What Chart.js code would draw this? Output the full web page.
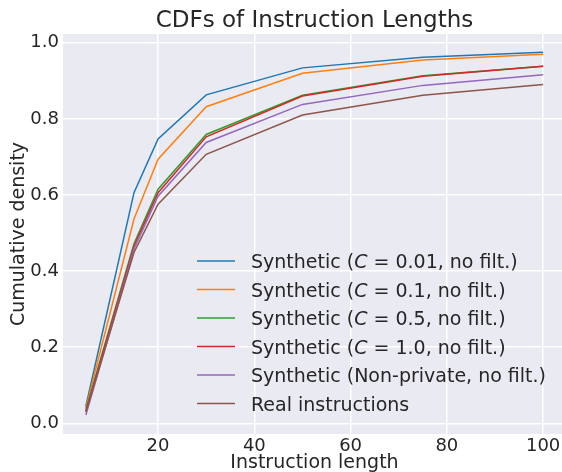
<!DOCTYPE html>
<html>
<head>
<meta charset="utf-8">
<script src="https://cdn.jsdelivr.net/npm/chart.js@4/dist/chart.umd.min.js"></script>
<style>
  html, body { margin: 0; padding: 0; background: #ffffff; overflow: hidden; }
  #wrap { width: 562px; height: 472px; overflow: hidden; }
  canvas { display: block; }
</style>
</head>
<body>
<div id="wrap"><canvas id="cdfChart" width="566" height="472"></canvas></div>
<script>
// instruction lengths where the CDF was evaluated
let lengths = [5, 15, 20, 30, 50, 75, 100];

let seriesLabels = [
    'Synthetic (C = 0.01, no filt.)',
    'Synthetic (C = 0.1, no filt.)',
    'Synthetic (C = 0.5, no filt.)',
    'Synthetic (C = 1.0, no filt.)',
    'Synthetic (Non-private, no filt.)',
    'Real instructions'
];

let cdfC001 = [0.045, 0.606, 0.747, 0.863, 0.934, 0.962, 0.975];
let cdfC01 = [0.040, 0.537, 0.694, 0.832, 0.920, 0.955, 0.970];
let cdfC05 = [0.035, 0.472, 0.615, 0.759, 0.862, 0.913, 0.938];
let cdfC10 = [0.031, 0.466, 0.606, 0.753, 0.860, 0.912, 0.938];
let cdfNonPrivate = [0.022, 0.458, 0.597, 0.738, 0.838, 0.888, 0.916];
let cdfReal = [0.029, 0.449, 0.576, 0.707, 0.810, 0.862, 0.890];

let xTicks = [20, 40, 60, 80, 100];
let yTicks = [0.0, 0.2, 0.4, 0.6, 0.8, 1.0];

let colors = ['#1f77b4', '#ff7f0e', '#2ca02c', '#d62728', '#9467bd', '#8c564b'];
let allSeries = [cdfC001, cdfC01, cdfC05, cdfC10, cdfNonPrivate, cdfReal];

const FONT = "'DejaVu Sans', sans-serif";
const TEXT = '#262626';

// grey seaborn-style background behind the plot area
const plotBackground = {
    id: 'plotBackground',
    beforeDraw(chart) {
        const { ctx, chartArea } = chart;
        ctx.save();
        ctx.fillStyle = '#eaeaf2';
        ctx.fillRect(chartArea.left, chartArea.top, chartArea.right - chartArea.left, chartArea.bottom - chartArea.top);
        ctx.restore();
    }
};

// title centred over the axes (not the whole canvas), like matplotlib
const axesTitle = {
    id: 'axesTitle',
    afterDraw(chart) {
        const { ctx, chartArea } = chart;
        ctx.save();
        ctx.font = '23px ' + FONT;
        ctx.fillStyle = TEXT;
        ctx.textAlign = 'center';
        ctx.textBaseline = 'alphabetic';
        ctx.fillText('CDFs of Instruction Lengths', (chartArea.left + chartArea.right) / 2, 27);
        ctx.restore();
    }
};

// legend drawn inside the axes, no frame, like matplotlib loc='lower right'
const insideLegend = {
    id: 'insideLegend',
    afterDraw(chart) {
        const ctx = chart.ctx;
        const lineX0 = 197, lineX1 = 235, textX = 251;
        const y0 = 261, step = 28.5;
        const size = 19;
        ctx.save();
        ctx.textBaseline = 'alphabetic';
        ctx.textAlign = 'left';
        chart.data.datasets.forEach((ds, i) => {
            let y = y0 + step * i;
            ctx.strokeStyle = ds.borderColor;
            ctx.lineWidth = 1.3;
            ctx.beginPath();
            ctx.moveTo(lineX0, y);
            ctx.lineTo(lineX1, y);
            ctx.stroke();

            ctx.fillStyle = TEXT;
            let x = textX;
            let parts = ds.label.split(/(C(?= =))/);
            parts.forEach(p => {
                ctx.font = (p === 'C' ? 'italic ' : '') + size + 'px ' + FONT;
                ctx.fillText(p, x, y + 7);
                x += ctx.measureText(p).width;
            });
        });
        ctx.restore();
    }
};

const ctx = document.getElementById('cdfChart').getContext('2d');
const cdfChart = new Chart(ctx, {
    type: 'line',
    data: {
        datasets: allSeries.map((vals, i) => ({
            label: seriesLabels[i],
            data: lengths.map((x, j) => ({ x: x, y: vals[j] })),
            borderColor: colors[i],
            backgroundColor: colors[i],
            borderWidth: 1.5,
            pointRadius: 0,
            tension: 0,
            order: -i
        }))
    },
    options: {
        responsive: false,
        animation: false,
        layout: { padding: { left: 0, right: 0, top: 34, bottom: 0 } },
        plugins: {
            legend: { display: false },
            tooltip: { enabled: false },
            title: { display: false }
        },
        scales: {
            x: {
                type: 'linear',
                min: 0.25,
                max: 104.75,
                afterBuildTicks: (scale) => { scale.ticks = xTicks.map(v => ({ value: v })); },
                afterFit: (scale) => { scale.height = 38; },
                grid: { color: '#ffffff', lineWidth: 1.5, drawTicks: false },
                border: { display: false },
                ticks: {
                    color: TEXT,
                    font: { family: FONT, size: 18 },
                    padding: 2,
                    maxRotation: 0,
                    callback: (v) => String(v)
                },
                title: {
                    display: true,
                    text: 'Instruction length',
                    color: TEXT,
                    font: { family: FONT, size: 19 },
                    padding: { top: 0, bottom: -2 }
                }
            },
            y: {
                type: 'linear',
                min: -0.028,
                max: 1.023,
                afterBuildTicks: (scale) => { scale.ticks = yTicks.map(v => ({ value: v })); },
                afterFit: (scale) => { scale.width = 63; },
                grid: { color: '#ffffff', lineWidth: 1.5, drawTicks: false },
                border: { display: false },
                ticks: {
                    color: TEXT,
                    font: { family: FONT, size: 18 },
                    padding: 4,
                    callback: (v) => v.toFixed(1)
                },
                title: {
                    display: true,
                    text: 'Cumulative density',
                    color: TEXT,
                    font: { family: FONT, size: 19 },
                    padding: { top: 8, bottom: 0 }
                }
            }
        }
    },
    plugins: [plotBackground, axesTitle, insideLegend]
});
</script>
</body>
</html>
